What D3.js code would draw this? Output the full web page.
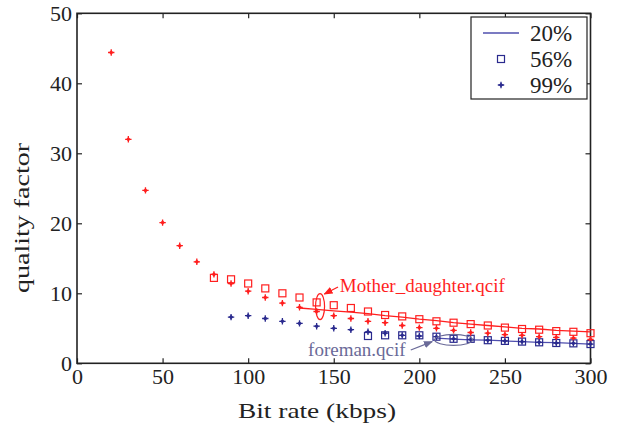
<!DOCTYPE html>
<html>
<head>
<meta charset="utf-8">
<script src="https://cdn.jsdelivr.net/npm/d3@7"></script>
<style>
  body { margin: 0; background: #fff; }
  text { font-family: "Liberation Serif", "Times New Roman", serif; }
</style>
</head>
<body>
<svg id="chart" width="623" height="431"></svg>
<script>
// Mother_daughter.qcif (red)
const mdRate99 = [20, 30, 40, 50, 60, 70, 80, 90, 100, 110, 120, 130, 140, 150, 160, 170, 180, 190, 200, 210, 220, 230, 240, 250, 260, 270, 280, 290, 300];
const mdQ99 = [44.4, 32.0, 24.7, 20.1, 16.8, 14.5, 12.7, 11.4, 10.3, 9.4, 8.6, 8.0, 7.4, 6.8, 6.4, 6.0, 5.8, 5.4, 5.1, 5.0, 4.7, 4.4, 4.3, 4.1, 4.0, 3.8, 3.7, 3.6, 3.4];
const mdRate56 = [80, 90, 100, 110, 120, 130, 140, 150, 160, 170, 180, 190, 200, 210, 220, 230, 240, 250, 260, 270, 280, 290, 300];
const mdQ56 = [12.2, 12.0, 11.4, 10.7, 10.0, 9.4, 8.7, 8.3, 7.9, 7.4, 6.9, 6.7, 6.3, 6.0, 5.8, 5.6, 5.4, 5.1, 4.9, 4.8, 4.6, 4.5, 4.3];
const mdRate20 = [130, 140, 150, 160, 170, 180, 190, 200, 210, 220, 230, 240, 250, 260, 270, 280, 290, 300];
const mdQ20 = [7.9, 7.7, 7.5, 7.3, 7.1, 6.8, 6.6, 6.3, 6.1, 5.8, 5.6, 5.4, 5.2, 5.0, 4.9, 4.7, 4.6, 4.5];

// foreman.qcif (blue)
const fmRate99 = [90, 100, 110, 120, 130, 140, 150, 160, 170, 180, 190, 200, 210, 220, 230, 240, 250, 260, 270, 280, 290, 300];
const fmQ99 = [6.6, 6.8, 6.4, 6.0, 5.7, 5.3, 5.0, 4.8, 4.5, 4.3, 4.0, 3.9, 3.8, 3.5, 3.4, 3.3, 3.2, 3.1, 3.0, 2.9, 2.85, 2.75];
const fmRate56 = [170, 180, 190, 200, 210, 220, 230, 240, 250, 260, 270, 280, 290, 300];
const fmQ56 = [3.9, 4.0, 4.0, 4.0, 3.8, 3.5, 3.5, 3.3, 3.2, 3.1, 3.0, 2.9, 2.85, 2.75];
const fmRate20 = [210, 220, 230, 240, 250, 260, 270, 280, 290, 300];
const fmQ20 = [3.6, 3.45, 3.35, 3.3, 3.2, 3.1, 3.0, 2.95, 2.85, 2.75];

const xTicks = [0, 50, 100, 150, 200, 250, 300];
const yTicks = [0, 10, 20, 30, 40, 50];
const legendLabels = ["20%", "56%", "99%"];

const red = "#ff1f1f", blue = "#2a2a8e", blueLine = "#4f4fae", slate = "#6a6a98";

const svg = d3.select("#chart");
const plot = { left: 77, right: 590.5, top: 13.3, bottom: 363.3 };

const x = d3.scaleLinear().domain([0, 300]).range([plot.left, plot.right]);
const y = d3.scaleLinear().domain([0, 50]).range([plot.bottom, plot.top]);

const zip = (xs, ys) => xs.map((v, i) => [v, ys[i]]);

// axes, ticks pointing inward like matlab
const axisStyle = g => {
  g.select(".domain").remove();
  g.selectAll(".tick line").attr("stroke", "#222").attr("stroke-width", 1.2);
  g.selectAll("text").attr("fill", "#222").style("font-size", "22px");
};

svg.append("g").attr("transform", `translate(0,${plot.bottom})`)
  .call(d3.axisBottom(x).tickValues(xTicks).tickSizeInner(-5).tickSizeOuter(0).tickPadding(5))
  .call(axisStyle);
svg.append("g").attr("transform", `translate(0,${plot.top})`)
  .call(d3.axisTop(x).tickValues(xTicks).tickSizeInner(-5).tickSizeOuter(0).tickFormat(""))
  .call(axisStyle);
svg.append("g").attr("transform", `translate(${plot.left},0)`)
  .call(d3.axisLeft(y).tickValues(yTicks).tickSizeInner(-5).tickSizeOuter(0).tickPadding(5))
  .call(axisStyle);
svg.append("g").attr("transform", `translate(${plot.right},0)`)
  .call(d3.axisRight(y).tickValues(yTicks).tickSizeInner(-5).tickSizeOuter(0).tickFormat(""))
  .call(axisStyle);

svg.append("rect")
  .attr("x", plot.left).attr("y", plot.top)
  .attr("width", plot.right - plot.left).attr("height", plot.bottom - plot.top)
  .attr("fill", "none").attr("stroke", "#222").attr("stroke-width", 1.6);

// titles
svg.append("text")
  .attr("x", 317).attr("y", 418)
  .attr("text-anchor", "middle")
  .attr("textLength", 158).attr("lengthAdjust", "spacingAndGlyphs")
  .style("font-size", "22px").attr("fill", "#222")
  .text("Bit rate (kbps)");
svg.append("text")
  .attr("transform", "translate(29,218) rotate(-90)")
  .attr("text-anchor", "middle")
  .attr("textLength", 150).attr("lengthAdjust", "spacingAndGlyphs")
  .style("font-size", "21px").attr("fill", "#222")
  .text("quality factor");

// markers
const plusPath = "M-3.2,0H3.2M0,-3.2V3.2";
const diamondPath = "M0,-2.3L2.3,0L0,2.3L-2.3,0Z";

function drawLine(data, color) {
  svg.append("path").datum(data)
    .attr("fill", "none").attr("stroke", color).attr("stroke-width", 1.3)
    .attr("d", d3.line().x(d => x(d[0])).y(d => y(d[1])));
}
function drawSquares(data, color) {
  svg.append("g").selectAll("rect").data(data).join("rect")
    .attr("x", d => x(d[0]) - 3.5).attr("y", d => y(d[1]) - 3.5)
    .attr("width", 7).attr("height", 7)
    .attr("fill", "none").attr("stroke", color).attr("stroke-width", 1.2);
}
function drawStars(data, color) {
  const g = svg.append("g").selectAll("g").data(data).join("g")
    .attr("transform", d => `translate(${x(d[0])},${y(d[1])})`);
  g.append("path").attr("d", plusPath).attr("stroke", color).attr("stroke-width", 1.3);
  g.append("path").attr("d", diamondPath).attr("fill", color);
}

drawLine(zip(mdRate20, mdQ20), red);
drawLine(zip(fmRate20, fmQ20), blueLine);
drawSquares(zip(mdRate56, mdQ56), red);
drawSquares(zip(fmRate56, fmQ56), blue);
drawStars(zip(mdRate99, mdQ99), red);
drawStars(zip(fmRate99, fmQ99), blue);

// annotations
svg.append("defs").selectAll("marker").data([["arrRed", red], ["arrSlate", slate]]).join("marker")
  .attr("id", d => d[0]).attr("viewBox", "0 0 10 10").attr("refX", 9).attr("refY", 5)
  .attr("markerWidth", 7).attr("markerHeight", 7).attr("orient", "auto")
  .append("path").attr("d", "M0,1L10,5L0,9Z").attr("fill", d => d[1]);

svg.append("ellipse")
  .attr("cx", x(142)).attr("cy", y(8.1)).attr("rx", 4.5).attr("ry", 13)
  .attr("fill", "none").attr("stroke", red).attr("stroke-width", 1.2);
svg.append("line")
  .attr("x1", x(152.5)).attr("y1", y(10.9)).attr("x2", x(144.5)).attr("y2", y(9.9))
  .attr("stroke", red).attr("stroke-width", 1.3).attr("marker-end", "url(#arrRed)");
svg.append("text")
  .attr("x", x(153.5)).attr("y", y(10.2))
  .style("font-size", "19px").attr("fill", red)
  .text("Mother_daughter.qcif");

svg.append("ellipse")
  .attr("cx", x(220)).attr("cy", y(3.35)).attr("rx", 19).attr("ry", 5.5)
  .attr("fill", "none").attr("stroke", slate).attr("stroke-width", 1.2);
svg.append("line")
  .attr("x1", x(195)).attr("y1", y(1.9)).attr("x2", x(207.5)).attr("y2", y(3.1))
  .attr("stroke", slate).attr("stroke-width", 1.3).attr("marker-end", "url(#arrSlate)");
svg.append("text")
  .attr("x", x(135)).attr("y", y(1.05))
  .style("font-size", "19px").attr("fill", slate)
  .text("foreman.qcif");

// legend
const lg = svg.append("g");
lg.append("rect")
  .attr("x", 471).attr("y", 17).attr("width", 116).attr("height", 82)
  .attr("fill", "#fff").attr("stroke", "#222").attr("stroke-width", 1.2);
const rowY = [33, 59, 85];
lg.append("line").attr("x1", 483).attr("x2", 519).attr("y1", rowY[0]).attr("y2", rowY[0])
  .attr("stroke", blueLine).attr("stroke-width", 1.3);
lg.append("rect").attr("x", 497.5).attr("y", rowY[1] - 3.5).attr("width", 7).attr("height", 7)
  .attr("fill", "none").attr("stroke", blue).attr("stroke-width", 1.2);
const lgStar = lg.append("g").attr("transform", `translate(501,${rowY[2]})`);
lgStar.append("path").attr("d", plusPath).attr("stroke", blue).attr("stroke-width", 1.3);
lgStar.append("path").attr("d", diamondPath).attr("fill", blue);
lg.selectAll("text.lab").data(legendLabels).join("text").attr("class", "lab")
  .attr("x", 530).attr("y", (d, i) => rowY[i] + 7.5)
  .style("font-size", "23px").attr("fill", "#222")
  .text(d => d);
</script>
</body>
</html>
